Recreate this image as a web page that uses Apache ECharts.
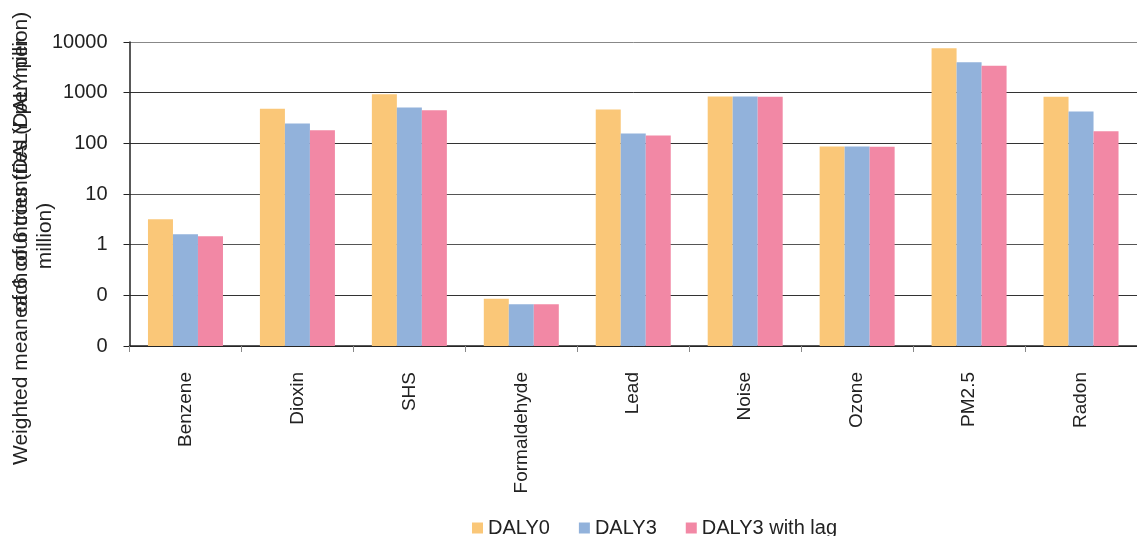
<!DOCTYPE html>
<html><head><meta charset="utf-8">
<script src="https://cdn.jsdelivr.net/npm/echarts@6/dist/echarts.min.js"></script>
<style>html,body{margin:0;padding:0;background:#fff}#c{width:1137px;height:536px}</style>
</head><body><div id="c"></div>
<script>
const categories = ['Benzene','Dioxin','SHS','Formaldehyde','Lead','Noise','Ozone','PM2.5','Radon'];
const daly0 = [3.16, 479, 933, 0.086, 467, 841, 87, 7550, 826];
const daly3 = [1.6, 247, 510, 0.067, 157, 840, 87, 4000, 427];
const daly3lag = [1.46, 182, 452, 0.067, 143, 830, 86, 3390, 174];
const seriesNames = ['DALY0','DALY3','DALY3 with lag'];
const yTitleA = 'Weighted mean of 6 countries (DALY per million)';
const yTitleB1 = 'each of 6 countries (DALY per';
const yTitleB2 = 'million)';
const logMin = 0.01, logMax = 10000;

const colors = ['#FAC778','#92B2DB','#F288A5'];
const font = 'Arial, "Liberation Sans", Helvetica, sans-serif';
const off = -Math.log10(logMin);
const toAxis = v => Math.log10(v) + off;
const chart = echarts.init(document.getElementById('c'));
const mk = (name, data, i) => ({
  name, type: 'bar', data: data.map(toAxis), barGap: '0%', barCategoryGap: '33%',
  itemStyle: { color: colors[i] }
});
chart.setOption({
  animation: false,
  textStyle: { fontFamily: font },
  grid: { left: 129.5, top: 42, width: 1022, height: 304 },
  legend: {
    data: seriesNames, bottom: -7, left: 467,
    itemWidth: 11, itemHeight: 11, itemGap: 29,
    icon: 'rect',
    textStyle: { fontSize: 20, color: '#222', fontFamily: font }
  },
  xAxis: {
    type: 'category', data: categories,
    axisLine: { lineStyle: { color: '#222', width: 1.5 } },
    axisTick: { show: true, length: 6, lineStyle: { color: '#888' } },
    axisLabel: { rotate: 90, fontSize: 19, color: '#222', margin: 26, interval: 0 }
  },
  yAxis: {
    type: 'value', min: 0, max: toAxis(logMax), interval: 1,
    axisLine: { show: true, lineStyle: { color: '#222', width: 1.5 } },
    axisTick: { show: true, length: 6, lineStyle: { color: '#222' } },
    axisLabel: { fontSize: 20, color: '#222', margin: 22,
      formatter: v => { const r = Math.pow(10, v - off); return r >= 1 ? String(Math.round(r)) : '0'; } },
    splitLine: { show: true, lineStyle: { color: ['#333','#333','#555','#555','#333','#333','#888'], width: 1 } }
  },
  graphic: [
    { type: 'text', x: 21, y: 465, rotation: Math.PI / 2,
      style: { text: yTitleA, font: '21px ' + font, fill: '#222', textAlign: 'left', textVerticalAlign: 'middle' } },
    { type: 'text', x: 21, y: 318, rotation: Math.PI / 2,
      style: { text: yTitleB1, font: '21px ' + font, fill: '#222', textAlign: 'left', textVerticalAlign: 'middle' } },
    { type: 'text', x: 45, y: 236, rotation: Math.PI / 2,
      style: { text: yTitleB2, font: '21px ' + font, fill: '#222', textAlign: 'center', textVerticalAlign: 'middle' } }
  ],
  series: [mk(seriesNames[0], daly0, 0), mk(seriesNames[1], daly3, 1), mk(seriesNames[2], daly3lag, 2)]
});
</script></body></html>
